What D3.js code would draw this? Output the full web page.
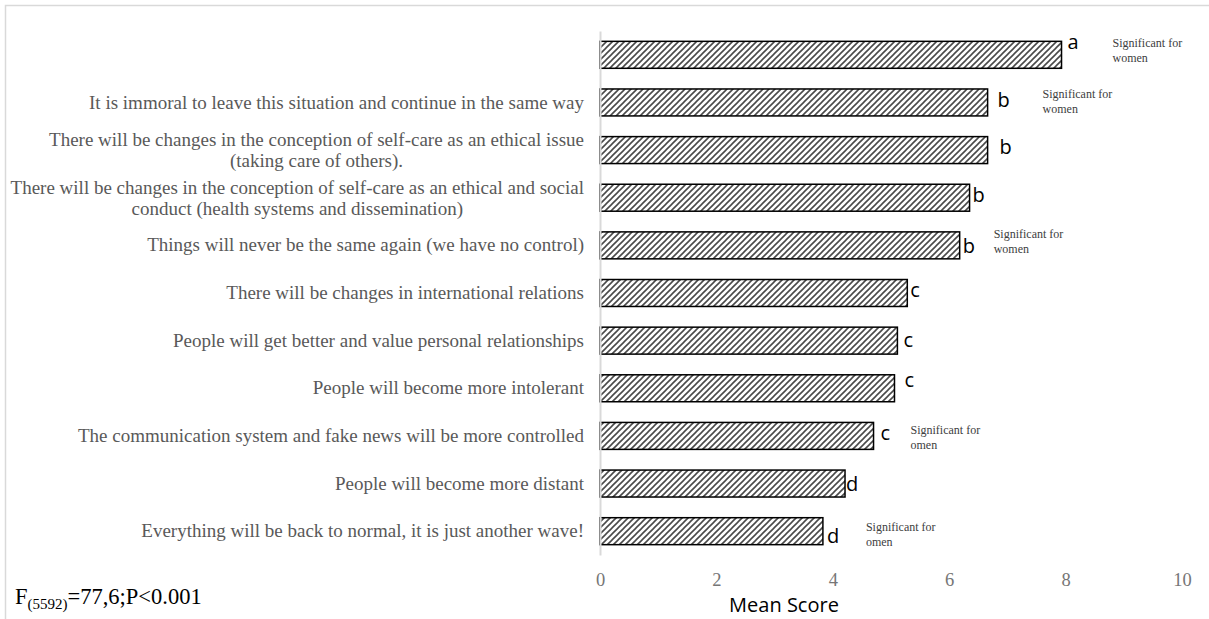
<!DOCTYPE html>
<html>
<head>
<meta charset="utf-8">
<script src="https://cdn.jsdelivr.net/npm/d3@7"></script>
<style>
  html, body { margin: 0; padding: 0; background: #fff; }
  svg { display: block; }
</style>
</head>
<body>
<svg id="chart" width="1209" height="619"></svg>
<script>
// ---------------- data ----------------
const categories = [
  "",
  "It is immoral to leave this situation and continue in the same way",
  "There will be changes in the conception of self-care as an ethical issue\n(taking care of others).",
  "There will be changes in the conception of self-care as an ethical and social\nconduct (health systems and dissemination)",
  "Things will never be the same again (we have no control)",
  "There will be changes in international relations",
  "People will get better and value personal relationships",
  "People will become more intolerant",
  "The communication system and fake news will be more controlled",
  "People will become more distant",
  "Everything will be back to normal, it is just another wave!"
];
const meanScores = [7.93, 6.66, 6.66, 6.35, 6.18, 5.28, 5.11, 5.06, 4.70, 4.21, 3.83];
const groupLetters = ["a", "b", "b", "b", "b", "c", "c", "c", "c", "d", "d"];
const notes = [
  "Significant for\nwomen", "Significant for\nwomen", "", "", "Significant for\nwomen",
  "", "", "", "Significant for\nomen", "", "Significant for\nomen"
];
const xTicks = [0, 2, 4, 6, 8, 10];
const xTitle = "Mean Score";
const statMain = "F";
const statSub = "(5592)";
const statRest = "=77,6;P<0.001";

// ---------------- layout (manual nudges of free-floating annotations) ----------------
const letterNudge = [[6,-6],[10,5],[12,4],[3,4],[3,8],[3,4],[6,6],[10,-1],[7,4.5],[1,7],[4,12]];
const noteNudge = [[51,-8],[55,-4],null,null,[34,-7],null,null,null,[37,-2],null,[43,0]];

// ---------------- drawing ----------------
const svg = d3.select("#chart");
const W = 1209, H = 619;

svg.append("rect").attr("width", W).attr("height", H).attr("fill", "#fff");
// outer chart frame
svg.append("rect")
  .attr("x", 5.5).attr("y", 5.5).attr("width", W + 10).attr("height", H + 10)
  .attr("fill", "none").attr("stroke", "#d9d9d9").attr("stroke-width", 1.5);

const x = d3.scaleLinear().domain([0, 10]).range([600, 1182]);
const y = d3.scaleBand().domain(d3.range(categories.length)).range([31, 555])
  .paddingInner(0.434).paddingOuter(0.217);

// hatch pattern
const defs = svg.append("defs");
const pat = defs.append("pattern").attr("id", "hatch")
  .attr("patternUnits", "userSpaceOnUse").attr("width", 6).attr("height", 6);
pat.append("rect").attr("width", 6).attr("height", 6).attr("fill", "#fff");
pat.append("path").attr("d", "M-1,1 L1,-1 M0,6 L6,0 M5,7 L7,5")
  .attr("stroke", "#4a4a4a").attr("stroke-width", 1.6);

// bars
svg.append("g").selectAll("rect").data(meanScores).join("rect")
  .attr("x", x(0))
  .attr("y", (d, i) => y(i))
  .attr("width", d => x(d) - x(0))
  .attr("height", y.bandwidth())
  .attr("fill", "url(#hatch)")
  .attr("stroke", "#000").attr("stroke-width", 1.5);

// y axis (line + category labels)
const yAxis = d3.axisLeft(y).tickSize(0).tickPadding(16).tickFormat(i => categories[i]);
const gy = svg.append("g").attr("transform", `translate(${x(0)},0)`).call(yAxis);
gy.select(".domain").attr("stroke", "#d9d9d9").attr("stroke-width", 2);
gy.selectAll(".tick text")
  .attr("font-family", "'Liberation Serif', 'Times New Roman', serif")
  .attr("font-size", 19).attr("fill", "#595959")
  .each(function(i) {
    const t = d3.select(this);
    const lines = categories[i].split("\n");
    if (lines.length < 2) return;
    t.text(null);
    const lineH = 21;
    const spans = lines.map((ln, k) => t.append("tspan").text(ln));
    const widths = spans.map(s => s.node().getComputedTextLength());
    const bw = d3.max(widths);
    const right = -16;
    const center = right - bw / 2;
    t.attr("text-anchor", "middle").attr("dy", null);
    spans.forEach((s, k) => {
      s.attr("x", center)
       .attr("y", (k - (lines.length - 1) / 2) * lineH)
       .attr("dy", "0.35em");
    });
  });

// x axis labels (no line, no ticks)
const xAxis = d3.axisBottom(x).tickValues(xTicks).tickSize(0).tickPadding(0).tickFormat(d3.format("d"));
const gx = svg.append("g").attr("transform", "translate(0,573)").call(xAxis);
gx.select(".domain").remove();
gx.selectAll(".tick text")
  .attr("font-family", "'Liberation Serif', 'Times New Roman', serif")
  .attr("font-size", 18.5).attr("fill", "#767676");

// axis title
svg.append("text").attr("x", 784).attr("y", 612).attr("text-anchor", "middle")
  .attr("font-family", "'Open Sans', sans-serif").attr("font-size", 20).attr("fill", "#000")
  .text(xTitle);

// significance group letters
svg.append("g").selectAll("text").data(groupLetters).join("text")
  .attr("x", (d, i) => x(meanScores[i]) + letterNudge[i][0])
  .attr("y", (d, i) => y(i) + y.bandwidth() / 2 + letterNudge[i][1])
  .attr("font-family", "'Open Sans', sans-serif").attr("font-size", 20).attr("fill", "#000")
  .text(d => d);

// side notes
const noteG = svg.append("g");
notes.forEach((n, i) => {
  if (!n) return;
  const t = noteG.append("text")
    .attr("font-family", "'Liberation Serif', 'Times New Roman', serif")
    .attr("font-size", 12).attr("fill", "#404040");
  const x0 = x(meanScores[i]) + noteNudge[i][0];
  const y0 = y(i) + y.bandwidth() / 2 + noteNudge[i][1];
  n.split("\n").forEach((ln, k) => {
    t.append("tspan").attr("x", x0).attr("y", y0 + k * 15).text(ln);
  });
});

// statistic annotation
const st = svg.append("text").attr("x", 15).attr("y", 604)
  .attr("font-family", "'Liberation Serif', 'Times New Roman', serif")
  .attr("font-size", 22.5).attr("fill", "#000");
st.append("tspan").text(statMain);
st.append("tspan").attr("font-size", 15).attr("dy", 5).text(statSub);
st.append("tspan").attr("dy", -5).text(statRest);
</script>
</body>
</html>
